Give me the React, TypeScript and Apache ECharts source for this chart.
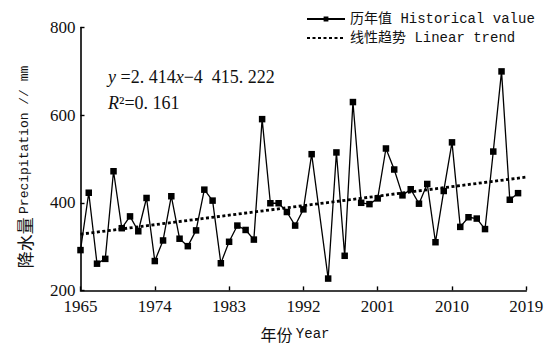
import React, { useEffect, useRef } from "react";
import * as echarts from "echarts";

const years: number[] = [
  1965, 1966, 1967, 1968, 1969, 1970, 1971, 1972, 1973, 1974,
  1975, 1976, 1977, 1978, 1979, 1980, 1981, 1982, 1983, 1984,
  1985, 1986, 1987, 1988, 1989, 1990, 1991, 1992, 1993, 1995,
  1996, 1997, 1998, 1999, 2000, 2001, 2002, 2003, 2004, 2005,
  2006, 2007, 2008, 2009, 2010, 2011, 2012, 2013, 2014, 2015,
  2016, 2017, 2018,
];
const precipitation: number[] = [
  292, 423, 261, 272, 472, 342, 369, 335, 411, 267,
  314, 415, 318, 301, 337, 430, 405, 262, 311, 348,
  338, 316, 591, 399, 399, 379, 348, 385, 511, 227,
  515, 279, 630, 400, 397, 410, 524, 476, 417, 431,
  398, 443, 310, 427, 538, 345, 367, 364, 340, 517,
  700, 407, 422,
];
const startYear = 1965;
const endYear = 2019;
const yearStep = 9;
const trendSlope = 2.414;
const trendIntercept = -4415.222;
const yTicks = { min: 200, max: 800, step: 200 };
const seriesNames = ["历年值 Historical value", "线性趋势 Linear trend"];

const serif = "'Liberation Serif', 'Times New Roman', serif";
const mono = "'Liberation Mono', 'Noto Sans CJK SC', monospace";
const cjk = "'Noto Sans CJK SC', sans-serif";

export default function App() {
  const ref = useRef<HTMLDivElement>(null);
  useEffect(() => {
    if (!ref.current) return;
    const chart = echarts.init(ref.current, null, { renderer: "svg" });
    const histData = years.map((y, i) => [y - startYear, precipitation[i]]);
    const trendData = [startYear, endYear].map((y) => [
      y - startYear,
      trendSlope * y + trendIntercept,
    ]);
    const titleRich = (cnSize: number, enSize: number) => ({
      cn: { fontFamily: cjk, fontSize: cnSize, fill: "#111" },
      en: { fontFamily: mono, fontSize: enSize, fill: "#111" },
    });
    chart.setOption({
      animation: false,
      backgroundColor: "#ffffff",
      grid: { left: 80.5, right: 27.7, top: 27.6, bottom: 57.6 },
      legend: {
        orient: "vertical",
        left: 301,
        top: 7,
        itemWidth: 38,
        itemHeight: 6,
        itemGap: 5,
        textStyle: { fontFamily: mono, fontSize: 14, color: "#111" },
        data: [
          { name: seriesNames[0] },
          { name: seriesNames[1], itemStyle: { color: "rgba(0,0,0,0)", opacity: 0 } },
        ],
      },
      xAxis: {
        type: "value",
        min: 0,
        max: endYear - startYear,
        interval: yearStep,
        axisLine: { show: true, onZero: false, lineStyle: { color: "#000", width: 1.6 } },
        axisTick: { show: true, inside: true, length: 4, lineStyle: { color: "#000", width: 1.4 } },
        axisLabel: {
          margin: 8,
          fontFamily: serif,
          fontSize: 17,
          color: "#111",
          formatter: (v: number) => String(v + startYear),
        },
        splitLine: { show: false },
      },
      yAxis: {
        type: "value",
        min: yTicks.min,
        max: yTicks.max,
        interval: yTicks.step,
        axisLine: { show: true, lineStyle: { color: "#000", width: 1.6 } },
        axisTick: { show: true, inside: true, length: 4, lineStyle: { color: "#000", width: 1.4 } },
        axisLabel: { margin: 5, fontFamily: serif, fontSize: 17, color: "#111" },
        splitLine: { show: false },
      },
      graphic: [
        {
          type: "text",
          x: 24,
          y: 167,
          rotation: Math.PI / 2,
          style: {
            text: "{cn|降水量} {en|Precipitation // mm}",
            align: "center",
            verticalAlign: "middle",
            rich: titleRich(17, 13),
          },
        },
        {
          type: "text",
          x: 295,
          y: 334,
          style: {
            text: "{cn|年份} {en|Year}",
            align: "center",
            verticalAlign: "middle",
            rich: titleRich(16, 14),
          },
        },
        {
          type: "text",
          left: 108,
          top: 68,
          style: {
            text: "{i|y} =2. 414{i|x}−4  415. 222",
            font: `18px ${serif}`,
            fill: "#111",
            rich: {
              i: { fontFamily: serif, fontStyle: "italic", fontSize: 18, fill: "#111" },
            },
          },
        },
        {
          type: "text",
          left: 108,
          top: 94,
          style: {
            text: "{i|R}²=0. 161",
            font: `18px ${serif}`,
            fill: "#111",
            rich: {
              i: { fontFamily: serif, fontStyle: "italic", fontSize: 18, fill: "#111" },
            },
          },
        },
      ],
      series: [
        {
          name: seriesNames[0],
          type: "line",
          data: histData,
          symbol: "rect",
          symbolSize: 6.5,
          itemStyle: { color: "#000" },
          lineStyle: { color: "#000", width: 1.3 },
          z: 3,
        },
        {
          name: seriesNames[1],
          type: "line",
          data: trendData,
          symbol: "none",
          itemStyle: { color: "#000" },
          lineStyle: { color: "#000", width: 2.8, type: [3, 2.5] },
          z: 2,
        },
      ],
    });
    return () => chart.dispose();
  }, []);
  return <div ref={ref} style={{ width: 554, height: 348, position: "absolute", left: 0, top: 0 }} />;
}
